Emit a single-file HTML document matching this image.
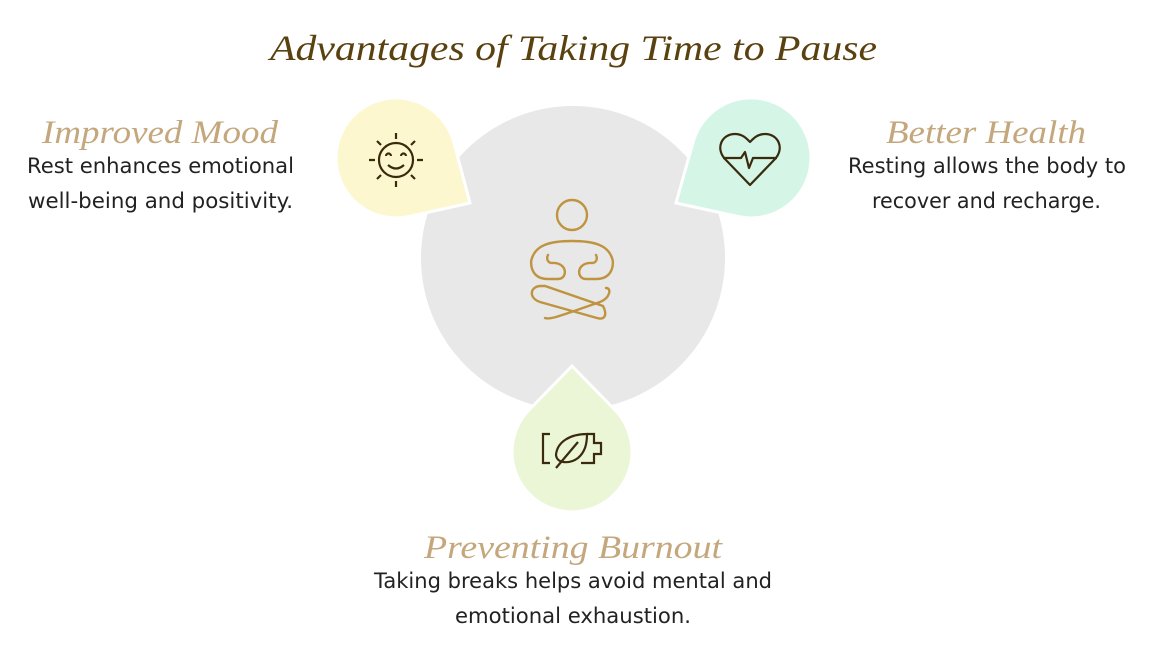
<!DOCTYPE html>
<html><head><meta charset="utf-8"><style>
html,body{margin:0;padding:0;background:#fff;}
svg{display:block;}
.t{font-family:"Liberation Serif",serif;font-style:italic;}
.b{font-family:"DejaVu Sans","Liberation Sans",sans-serif;fill:#222;}
</style></head><body>
<svg width="1163" height="651" viewBox="0 0 1163 651" xmlns="http://www.w3.org/2000/svg">
<text class="t" x="270" y="60" font-size="36" fill="#5a4210" textLength="607" lengthAdjust="spacingAndGlyphs">Advantages of Taking Time to Pause</text>

<circle cx="573" cy="258" r="152" fill="#e8e8e8"/>

<path d="M454,142.7 L470,203 L409,216.5 A60 60 0 1 1 454,142.7 Z" fill="#fdf7d0" stroke="#fff" stroke-width="3" stroke-linejoin="miter"/>
<path d="M693,142.7 L676,203 L738,216.5 A60 60 0 1 0 693,142.7 Z" fill="#d5f5e6" stroke="#fff" stroke-width="3"/>
<path d="M529,410 L572,366 L615,410 A60 60 0 1 1 529,410 Z" fill="#ebf6d6" stroke="#fff" stroke-width="3"/>

<!-- sun -->
<g stroke="#3a2a0e" stroke-width="2.2" fill="none" stroke-linecap="butt">
<circle cx="396" cy="160" r="17"/>
<path d="M386,156 a2.5,2.5 0 0 1 5,0 M401,156 a2.5,2.5 0 0 1 5,0 M388,165 q8,7 16,0"/>
<path d="M396,133 v6 M396,181 v6 M369,160 h6 M417,160 h6 M377,141 l4,4 M411,175 l4,4 M415,141 l-4,4 M381,175 l-4,4"/>
</g>
<!-- heart -->
<g stroke="#3a2a0e" stroke-width="2.2" fill="none" stroke-linejoin="round">
<path d="M750,185 L725,159 C715,148 722,134 735,134 C743,134 747,139 750,142 C753,139 757,134 765,134 C778,134 785,148 775,159 Z"/>
<path d="M723,158 H741 L745,152 L749,168 L753,158 H777"/>
</g>
<!-- battery leaf -->
<g stroke="#3a2a0e" stroke-width="2.2" fill="none">
<path d="M550,434 H543 V463 H550 M587,434 H594 V443 H601 V454 H594 V463 H581"/>
<path d="M587,434 C570,434 557,442 556,455 C557,464 570,464 578,458 C585,452 587,444 587,434 Z"/>
<path d="M556,468 L578,442"/>
</g>
<!-- meditation figure -->
<g stroke="#bf9440" stroke-width="2.4" fill="none" stroke-linecap="round">
<circle cx="572" cy="215" r="15"/>
<path d="M558,279 L548,279 C530,279 530,262 532,258 C536,246 548,241 572,241 C596,241 608,246 612,258 C614,262 614,279 596,279 L586,279 C576,279 576,262 592,263 C596,263 598,259 596,255"/>
<path d="M558,279 C568,279 568,262 552,263 C548,263 546,259 548,255"/>
<path d="M545,318 C550,320 560,316 600,302 C610,298 612,288 606,288"/>
<path d="M541,286 C530,286 528,298 540,302 L597,318 C604,320 608,316 603,306 L545,286 Z"/>
</g>

<text class="t" x="42" y="143" font-size="33" fill="#c4a77c" textLength="236" lengthAdjust="spacingAndGlyphs">Improved Mood</text>
<text class="b" x="27" y="173" font-size="21" textLength="267" lengthAdjust="spacingAndGlyphs">Rest enhances emotional</text>
<text class="b" x="28" y="208" font-size="21" textLength="265" lengthAdjust="spacingAndGlyphs">well-being and positivity.</text>

<text class="t" x="886" y="143" font-size="33" fill="#c4a77c" textLength="200" lengthAdjust="spacingAndGlyphs">Better Health</text>
<text class="b" x="848" y="173" font-size="21" textLength="278" lengthAdjust="spacingAndGlyphs">Resting allows the body to</text>
<text class="b" x="872" y="208" font-size="21" textLength="229" lengthAdjust="spacingAndGlyphs">recover and recharge.</text>

<text class="t" x="424" y="558" font-size="33" fill="#c4a77c" textLength="298" lengthAdjust="spacingAndGlyphs">Preventing Burnout</text>
<text class="b" x="374" y="588" font-size="21" textLength="398" lengthAdjust="spacingAndGlyphs">Taking breaks helps avoid mental and</text>
<text class="b" x="455" y="623" font-size="21" textLength="236" lengthAdjust="spacingAndGlyphs">emotional exhaustion.</text>
</svg>
</body></html>
